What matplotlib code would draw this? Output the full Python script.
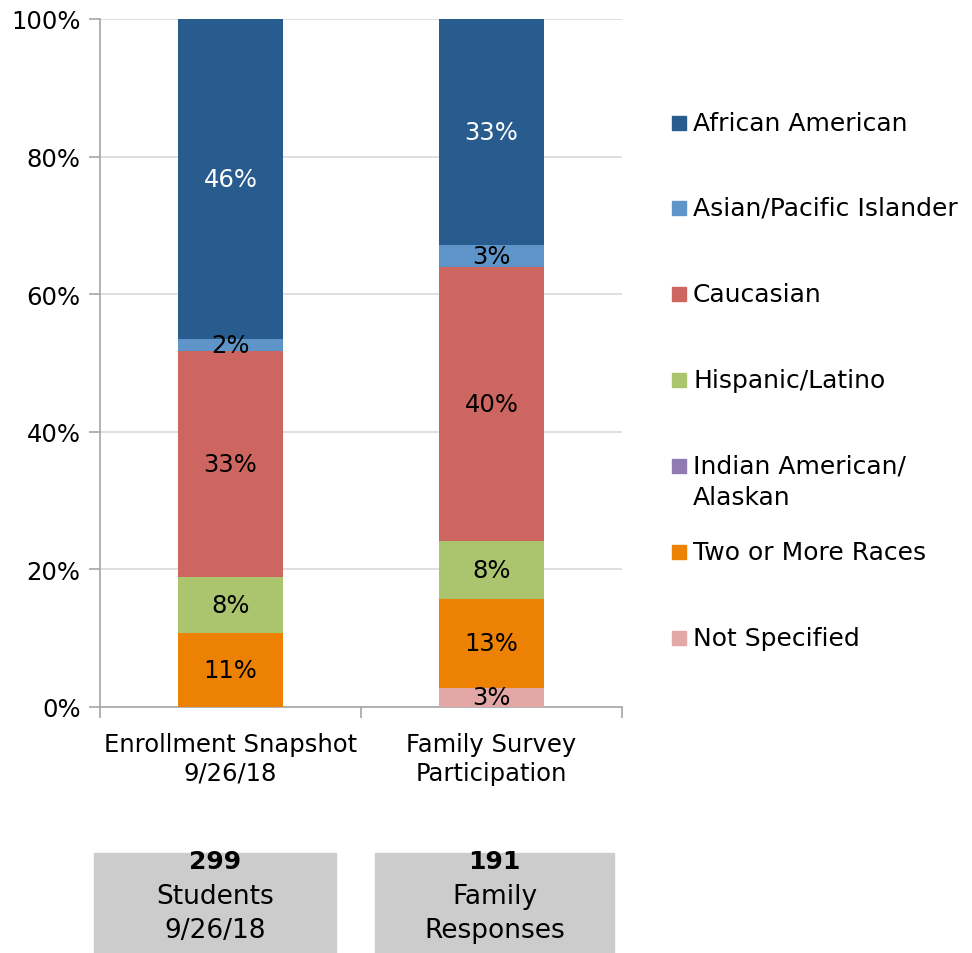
import matplotlib.pyplot as plt
from matplotlib.patches import Rectangle
from matplotlib.ticker import MultipleLocator, FixedLocator

plt.rcParams['font.family'] = ['DejaVu Sans']

# Daten
kategorien = ["Enrollment Snapshot\n9/26/18", "Family Survey\nParticipation"]
gruppen = ["Not Specified", "Two or More Races", "Indian American/\nAlaskan",
           "Hispanic/Latino", "Caucasian", "Asian/Pacific Islander", "African American"]
not_specified = [0.0, 2.8]
two_or_more = [10.8, 12.9]
indian_alaskan = [0.0, 0.0]
hispanic = [8.1, 8.4]
caucasian = [32.8, 39.9]
asian = [1.8, 3.2]
african = [46.5, 32.8]
farben = ["#E3A7A6", "#EC8103", "#8F7AB3", "#ABC46E", "#CD6660", "#5F94C8", "#285C8F"]
box_zahlen = ["299", "191"]
box_zeile2 = ["Students", "Family"]
box_zeile3 = ["9/26/18", "Responses"]

serien = [not_specified, two_or_more, indian_alaskan, hispanic, caucasian, asian, african]
fs = 17.5

fig = plt.figure(figsize=(9.72, 9.54), dpi=100)
W, H = 972, 954
ax = fig.add_axes([100 / W, 1 - 708 / H, 522 / W, 688 / H])

x = [0, 1]
unten = [0.0, 0.0]
for name, werte, farbe in zip(gruppen, serien, farben):
    ax.bar(x, werte, width=0.4, bottom=unten, color=farbe, zorder=3)
    for i, v in enumerate(werte):
        if v > 0:
            textfarbe = "white" if name == "African American" else "black"
            ax.text(x[i], unten[i] + v / 2, f"{round(v):d}%", ha="center", va="center",
                    fontsize=fs, color=textfarbe, zorder=4)
    unten = [u + v for u, v in zip(unten, werte)]

ax.set_xlim(-0.5, 1.5)
ax.set_ylim(0, 100)
ax.yaxis.set_major_locator(MultipleLocator(20))
ax.set_yticklabels([f"{int(t)}%" for t in ax.get_yticks()])
ax.set_xticks(x)
ax.set_xticklabels(kategorien, fontsize=fs, linespacing=1.25)
ax.xaxis.set_minor_locator(FixedLocator([-0.5, 0.5, 1.5]))
ax.tick_params(axis="x", which="major", length=0, pad=18)
ax.tick_params(axis="x", which="minor", length=8, color="#A6A6A6", width=1.2)
ax.tick_params(axis="y", length=8, color="#A6A6A6", width=1.2, labelsize=fs, pad=6)
ax.grid(axis="y", color="#D9D9D9", linewidth=1.2, zorder=0)
for s in ["top", "right"]:
    ax.spines[s].set_visible(False)
for s in ["left", "bottom"]:
    ax.spines[s].set_color("#A6A6A6")
    ax.spines[s].set_linewidth(1.2)

# Legende (von oben nach unten)
legende_y = [124, 209, 295, 381, 467, 553, 639]
for name, farbe, y in zip(gruppen[::-1], farben[::-1], legende_y):
    fig.patches.append(Rectangle((672 / W, 1 - (y + 7) / H), 14 / W, 14 / H,
                                 transform=fig.transFigure, color=farbe))
    zeilen = name.split("\n")
    for k, z in enumerate(zeilen):
        fig.text(693 / W, 1 - (y + 31 * k) / H, z, fontsize=18, va="center")

# Graue Boxen unten
boxen = [(94, 336), (375, 614)]
for (x0, x1), zahl, z2, z3 in zip(boxen, box_zahlen, box_zeile2, box_zeile3):
    fig.patches.append(Rectangle((x0 / W, 0), (x1 - x0) / W, (954 - 854) / H,
                                 transform=fig.transFigure, color="#CCCCCC"))
    xm = (x0 + x1) / 2 / W
    fig.text(xm, 1 - 862 / H, zahl, fontsize=18, fontweight="bold", ha="center", va="center")
    fig.text(xm, 1 - 897 / H, z2, fontsize=19, ha="center", va="center")
    fig.text(xm, 1 - 931 / H, z3, fontsize=19, ha="center", va="center")

fig.savefig("out.png", dpi=100)
